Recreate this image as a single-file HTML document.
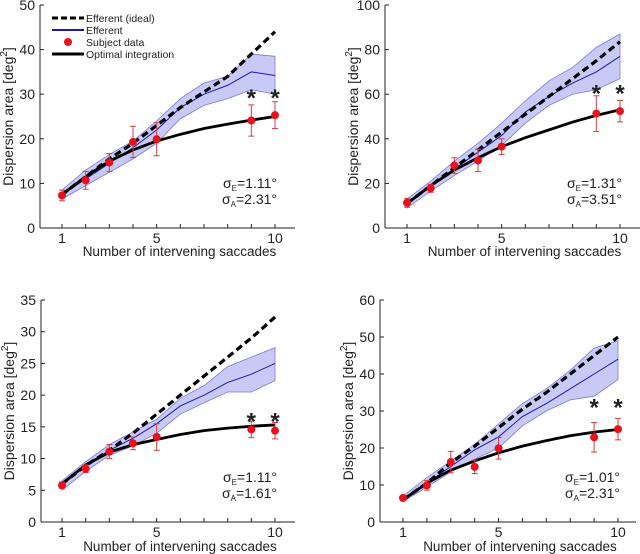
<!DOCTYPE html>
<html><head><meta charset="utf-8"><style>
body{margin:0;background:#fff}
svg{display:block;font-family:"Liberation Sans",sans-serif}
</style></head><body>
<svg id="fig" width="640" height="554"></svg>
<script>
var xCats=[1,2,3,4,5,6,7,8,9,10];
var subjX=[1,2,3,4,5,9,10];
// Panel A
var idealA=[7.5,11.5,15.5,19,23,27,30.5,34,39,44];
var effA=[7.5,11,14.5,18,22,27,30,32,35,34.2];
var upA=[8.5,13,16.5,19.5,24,29,32.5,34,39,38.5];
var loA=[6.5,9.5,12.5,15.5,19,24.5,27.5,29,31,30];
var subA=[7.3,10.7,14.7,19.3,19.9,24.1,25.3];
var errA=[1.2,2,2,3.5,3.7,3.5,3];
var optA=[7.5,11.5,15,17.5,19.5,21,22.3,23.3,24.2,25];
// Panel B
var idealB=[11,19,27,35,43,51,59,67,75,83.5];
var effB=[11,19,26.5,34,41.5,52,59,65,70,77];
var upB=[13,21,30,38,47,57,66,72,81,87];
var loB=[9,16.5,23.5,30,37,47,55,60,62,67];
var subB=[11.3,17.8,28,30.3,36.5,51.3,52.4];
var errB=[2,1.8,3.5,5,3.5,8,4.8];
var optB=[11,19,26,31.5,36.5,40.5,44,47.5,50.5,53];
// Panel C
var idealC=[6,8.9,11.3,14,17,20,23,26,29,32.3];
var effC=[6,8.9,11.3,13.2,15.5,18.3,20,22,23.3,25];
var upC=[6.5,9.5,12.2,14.2,16.2,19.5,21.5,24.5,26,27.5];
var loC=[5,8,10.5,12,14,17,18.8,20.5,20.5,22.3];
var subC=[5.8,8.4,11.1,12.4,13.4,14.6,14.4];
var errC=[0.5,0.6,1.1,1,2.1,1.3,1.3];
var optC=[6,9,11,12.2,13,13.8,14.4,14.8,15.1,15.3];
// Panel D
var idealD=[6,10.5,16,20.5,25.5,30.5,35,40,45,50];
var effD=[6,10.5,15,19.5,23,28.5,32,36,40,44];
var upD=[7,12,16.5,21,26.5,32,36,41,47,49];
var loD=[5.5,9.5,13.5,17,20,26,30,33,34,38.5];
var subD=[6.5,9.9,16.2,14.9,19.9,22.9,25.1];
var errD=[0.7,1.3,2.9,1.8,2.9,4,2.9];
var optD=[6,10.5,14,16.5,18.7,20.5,22,23.3,24.3,25];
var ticksA=[0,10,20,30,40,50], ticksB=[0,20,40,60,80,100], ticksC=[0,5,10,15,20,25,30,35], ticksD=[0,10,20,30,40,50,60];
var xTickLabels=[1,5,10];
var starsY=[30,62,16.5,32];

var NS="http://www.w3.org/2000/svg";
var svg=document.getElementById('fig');
function mk(tag,at,parent){
  var e=document.createElementNS(NS,tag);
  for(var k in at){e.setAttribute(k,String(at[k]));}
  (parent||svg).appendChild(e);
  return e;
}
function txt(parent,at,str){var t=mk('text',at,parent);t.appendChild(document.createTextNode(str));return t;}
function tsp(parent,at,str){var t=mk('tspan',at,parent);t.appendChild(document.createTextNode(str));return t;}

function panel(id,g,ideal,eff,up,lo,sub,ebar,opt,ticks,sE,sA,starY,legend){
  var ymax=ticks[ticks.length-1];
  function X(v){return g.x1+(v-1)*(g.x10-g.x1)/9;}
  function Y(v){return g.y0-v*(g.y0-g.yt)/ymax;}
  var G=mk('g',{});
  
  
  var i,d='';
  for(i=0;i<xCats.length;i++){d+=(i?'L':'M')+X(xCats[i])+','+Y(up[i]);}
  for(i=xCats.length-1;i>=0;i--){d+='L'+X(xCats[i])+','+Y(lo[i]);}
  d+='Z';
  var band=mk('path',{d:d,fill:'#c9c9f5',stroke:'#7a7ae0','stroke-width':0.8},G);
  
  
  function pl(arr,at,name){
    var pts=[];
    for(var j=0;j<xCats.length;j++){pts.push(X(xCats[j])+','+Y(arr[j]));}
    at.points=pts.join(' ');at.fill='none';
    var p=mk('polyline',at,G);
    
    
  }
  pl(eff,{stroke:'#1a1ab0','stroke-width':1},'efferent-line');
  pl(opt,{stroke:'#000','stroke-width':2.8},'optimal-line');
  pl(ideal,{stroke:'#000','stroke-width':3.2,'stroke-dasharray':'7,4'},'ideal-line');
  for(i=0;i<sub.length;i++){
    var px=X(subjX[i]),lo2=Y(sub[i]-ebar[i]),hi2=Y(sub[i]+ebar[i]);
    mk('line',{x1:px,x2:px,y1:lo2,y2:hi2,stroke:'#d04040','stroke-width':1},G);
    mk('line',{x1:px-3,x2:px+3,y1:lo2,y2:lo2,stroke:'#d04040','stroke-width':1},G);
    mk('line',{x1:px-3,x2:px+3,y1:hi2,y2:hi2,stroke:'#d04040','stroke-width':1},G);
    var c=mk('circle',{cx:px,cy:Y(sub[i]),r:4,fill:'#e8101a'},G);
    
    
  }
  var stars=[9,10];
  for(i=0;i<2;i++){
    var st=txt(G,{x:X(stars[i]),y:Y(starY)+12,'text-anchor':'middle','font-size':24,'font-weight':'bold',fill:'#222'},'*');
    
    
  }
  mk('line',{x1:g.ax,x2:g.ax,y1:g.yt,y2:g.y0,stroke:'#222','stroke-width':1},G);
  mk('line',{x1:g.ax,x2:g.ar,y1:g.y0,y2:g.y0,stroke:'#222','stroke-width':1},G);
  for(i=0;i<ticks.length;i++){
    mk('line',{x1:g.ax,x2:g.ax+4,y1:Y(ticks[i]),y2:Y(ticks[i]),stroke:'#222'},G);
    txt(G,{x:g.ax-5,y:Y(ticks[i])+5,'text-anchor':'end','font-size':14,fill:'#222'},String(ticks[i]));
  }
  for(i=0;i<xCats.length;i++){mk('line',{x1:X(xCats[i]),x2:X(xCats[i]),y1:g.y0,y2:g.y0-4,stroke:'#222'},G);}
  for(i=0;i<xTickLabels.length;i++){
    txt(G,{x:X(xTickLabels[i]),y:g.y0+g.tl,'text-anchor':'middle','font-size':14,fill:'#222'},String(xTickLabels[i]));
  }
  var xt=txt(G,{x:(g.ax+g.ar)/2+12,y:g.y0+g.tt,'text-anchor':'middle','font-size':13.5,fill:'#222'},'Number of intervening saccades');
  
  
  var yt=mk('text',{x:0,y:0,'text-anchor':'middle','font-size':14,fill:'#222',transform:'translate('+(g.ax-27)+','+((g.yt+g.y0)/2)+') rotate(-90)'},G);
  yt.appendChild(document.createTextNode('Dispersion area [deg'));
  tsp(yt,{dy:-6,'font-size':10},'2');
  tsp(yt,{dy:6},']');
  
  
  var sx=X(10)+2, sy=g.y0-40;
  var s1=txt(G,{x:sx,y:sy,'text-anchor':'end','font-size':14,fill:'#222'},'σ');
  tsp(s1,{'font-size':8,dy:3},'E');
  tsp(s1,{dy:-3},'='+sE+'°');
  
  
  var s2=txt(G,{x:sx,y:sy+16,'text-anchor':'end','font-size':14,fill:'#222'},'σ');
  tsp(s2,{'font-size':8,dy:3},'A');
  tsp(s2,{dy:-3},'='+sA+'°');
  
  
  if(legend){
    var L=mk('g',{},G);
    
    
    mk('line',{x1:52,x2:84,y1:18,y2:18,stroke:'#000','stroke-width':3,'stroke-dasharray':'6,3'},L);
    mk('line',{x1:52,x2:84,y1:30,y2:30,stroke:'#1a1ab0','stroke-width':2},L);
    mk('circle',{cx:68,cy:42,r:4,fill:'#e8101a'},L);
    mk('line',{x1:52,x2:84,y1:54,y2:54,stroke:'#000','stroke-width':3},L);
    var names=['Efferent (ideal)','Efferent','Subject data','Optimal integration'];
    for(i=0;i<4;i++){
      var le=txt(L,{x:86,y:18+12*i+4,'font-size':10.5,fill:'#222'},names[i]);
      
      
    }
  }
}
panel('panel-top-left',{ax:40,ar:295,x1:62,x10:275,y0:228,yt:5,tl:15,tt:28},idealA,effA,upA,loA,subA,errA,optA,ticksA,'1.11','2.31',starsY[0],true);
panel('panel-top-right',{ax:385,ar:640,x1:407,x10:620,y0:228,yt:5,tl:15,tt:28},idealB,effB,upB,loB,subB,errB,optB,ticksB,'1.31','3.51',starsY[1],false);
panel('panel-bottom-left',{ax:41,ar:295,x1:62,x10:275,y0:522,yt:300,tl:15,tt:29},idealC,effC,upC,loC,subC,errC,optC,ticksC,'1.11','1.61',starsY[2],false);
panel('panel-bottom-right',{ax:380,ar:636,x1:403,x10:618,y0:522,yt:300,tl:15,tt:29},idealD,effD,upD,loD,subD,errD,optD,ticksD,'1.01','2.31',starsY[3],false);
</script>
</body></html>
